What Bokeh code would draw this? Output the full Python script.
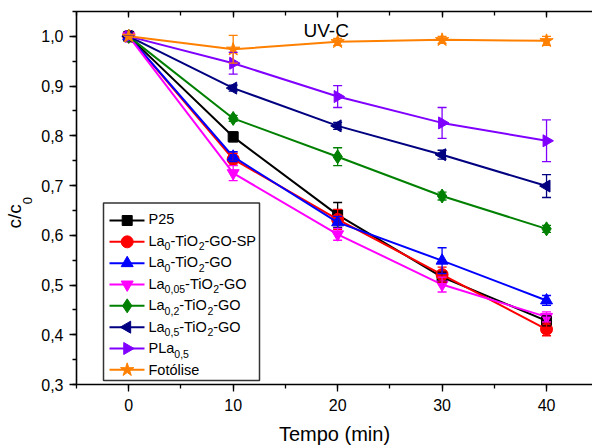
import math
import re
from bokeh.plotting import figure
from bokeh.models import (Range1d, LinearAxis, SingleIntervalTicker, FixedTicker,
                          CustomJSTickFormatter, Whisker, TeeHead, ColumnDataSource, Label)
from bokeh.embed import file_html
from bokeh.resources import INLINE

time = [0, 10, 20, 30, 40]

p25 = [1.0, 0.798, 0.641, 0.516, 0.428]
p25_err = [0.0, 0.010, 0.025, 0.010, 0.010]
la0_sp = [1.0, 0.753, 0.632, 0.521, 0.411]
la0_sp_err = [0.0, 0.012, 0.020, 0.015, 0.013]
la0 = [1.0, 0.758, 0.626, 0.549, 0.469]
la0_err = [0.0, 0.010, 0.012, 0.026, 0.010]
la005 = [1.0, 0.725, 0.602, 0.501, 0.436]
la005_err = [0.0, 0.015, 0.012, 0.015, 0.010]
la02 = [1.0, 0.835, 0.758, 0.679, 0.613]
la02_err = [0.0, 0.006, 0.018, 0.008, 0.007]
la05 = [1.0, 0.896, 0.820, 0.762, 0.699]
la05_err = [0.0, 0.006, 0.007, 0.009, 0.023]
pla05 = [1.0, 0.946, 0.879, 0.826, 0.790]
pla05_err = [0.0, 0.022, 0.022, 0.031, 0.042]
fotolise = [1.0, 0.974, 0.989, 0.993, 0.991]
fotolise_err = [0.0, 0.028, 0.007, 0.007, 0.009]

# legend labels; _{..} marks a subscript
labels = ["P25", "La_{0}-TiO_{2}-GO-SP", "La_{0}-TiO_{2}-GO", "La_{0,05}-TiO_{2}-GO",
          "La_{0,2}-TiO_{2}-GO", "La_{0,5}-TiO_{2}-GO", "PLa_{0,5}", "Fotólise"]
colors = ["#000000", "#FF0000", "#0000FF", "#FF00FF", "#008000", "#000080", "#8000FF", "#FF8000"]
markers = ["square", "circle", "triangle", "inverted_triangle", "diamond", "triangle", "triangle", "star"]
angles = [0, 0, 0, 0, 0, math.pi / 2, -math.pi / 2, 0]
msizes = [10, 12, 12, 12, 14, 12, 12, 14]
series = [p25, la0_sp, la0, la005, la02, la05, pla05, fotolise]
errors = [p25_err, la0_sp_err, la0_err, la005_err, la02_err, la05_err, pla05_err, fotolise_err]

FONT = "Liberation Sans"
W, H = 592, 447
XMIN, XMAX, YMIN, YMAX = -5, 44.4, 0.3, 1.05
FL, FR, FT, FB = 76, 592, 11, 387


def dx(sx):
    return XMIN + (sx - FL) / (FR - FL) * (XMAX - XMIN)


def dy(sy):
    return YMIN + (FB - sy) / (FB - FT) * (YMAX - YMIN)


def lx(sx):  # page x -> label x (frame relative)
    return sx - FL


def ly(sy):  # page y -> label y (frame relative, upward)
    return FB - sy


# Arial / Liberation Sans advance widths (per 1000 em)
AW = {'P': 667, 'L': 556, 'a': 556, '-': 333, 'T': 611, 'i': 222, 'O': 778, 'G': 778,
      'S': 667, ',': 278, 'F': 611, 'o': 556, 't': 278, 'ó': 556, 'l': 222, 's': 500,
      'e': 556, ' ': 278, 'c': 500, '/': 278}


def tw(s, size):
    return sum(AW.get(c, 556) for c in s) * size / 1000.0


p = figure(width=W, height=H, output_backend="svg", toolbar_location=None,
           x_range=Range1d(XMIN, XMAX), y_range=Range1d(YMIN, YMAX),
           x_axis_location=None, y_axis_location=None,
           min_border_left=FL, min_border_right=0, min_border_top=FT, min_border_bottom=H - FB)
p.outline_line_color = None
p.xgrid.visible = False
p.ygrid.visible = False
p.background_fill_color = "white"
p.border_fill_color = "white"

fmt = CustomJSTickFormatter(code="return tick.toFixed(1).replace('.', ',');")

# y axis title: "c/c" (padded with no-break spaces so it sits a little below centre)
yaxis = LinearAxis(ticker=SingleIntervalTicker(interval=0.1, num_minor_ticks=2), formatter=fmt,
                   axis_label="c/c" + "\u00a0" * 7)
xaxis = LinearAxis(ticker=SingleIntervalTicker(interval=10, num_minor_ticks=2),
                   axis_label="Tempo (min)")
for ax in (xaxis, yaxis):
    ax.axis_line_width = 1.6
    ax.axis_line_color = "black"
    ax.major_tick_line_color = "black"
    ax.minor_tick_line_color = "black"
    ax.major_tick_line_width = 1.3
    ax.minor_tick_line_width = 1.3
    ax.major_tick_out = 7
    ax.major_tick_in = 0
    ax.minor_tick_out = 4
    ax.minor_tick_in = 0
    ax.major_label_text_font = FONT
    ax.major_label_text_font_size = "16px"
    ax.major_label_text_color = "black"
    ax.axis_label_text_font = FONT
    ax.axis_label_text_font_size = "20px"
    ax.axis_label_text_font_style = "normal"
    ax.axis_label_text_color = "black"
yaxis.axis_label_text_font_size = "19px"
xaxis.major_label_standoff = 7
yaxis.major_label_standoff = 6
xaxis.axis_label_standoff = 9
yaxis.axis_label_standoff = 13
p.add_layout(yaxis, "left")
p.add_layout(xaxis, "below")

# subscript "0" of the y title: a label-only axis pulled inward by a negative standoff
sub_axis = LinearAxis(ticker=FixedTicker(ticks=[dy(198)]),
                      formatter=CustomJSTickFormatter(code="return '0';"))
sub_axis.axis_line_color = None
sub_axis.major_tick_line_color = None
sub_axis.minor_tick_line_color = None
sub_axis.major_tick_out = 0
sub_axis.major_tick_in = 0
sub_axis.minor_tick_out = 0
sub_axis.minor_tick_in = 0
sub_axis.major_label_orientation = math.pi / 2
sub_axis.major_label_standoff = -26
sub_axis.major_label_text_font = FONT
sub_axis.major_label_text_font_size = "13px"
sub_axis.major_label_text_color = "black"
p.add_layout(sub_axis, "left")

top = LinearAxis(ticker=SingleIntervalTicker(interval=10, num_minor_ticks=2),
                 formatter=CustomJSTickFormatter(code="return '';"),
                 major_label_standoff=0)
top.axis_line_width = 1.6
top.major_tick_in = 6
top.major_tick_out = 0
top.minor_tick_in = 4
top.minor_tick_out = 0
top.major_tick_line_width = 1.3
top.minor_tick_line_width = 1.3
p.add_layout(top, "above")

# data
for col, mk, ang, ms, ys, es in zip(colors, markers, angles, msizes, series, errors):
    lower = [y - e for y, e in zip(ys, es)]
    upper = [y + e for y, e in zip(ys, es)]
    src = ColumnDataSource(dict(x=time, y=ys, lower=lower, upper=upper))
    w = Whisker(source=src, base="x", lower="lower", upper="upper", line_color=col, line_width=1.3,
                upper_head=TeeHead(size=9, line_color=col, line_width=1.3),
                lower_head=TeeHead(size=9, line_color=col, line_width=1.3))
    w.level = "glyph"
    p.add_layout(w)
    p.line("x", "y", source=src, line_color=col, line_width=2)
    p.scatter("x", "y", source=src, marker=mk, angle=ang, size=ms,
              fill_color=col, line_color=col)

# legend (drawn by hand to allow subscripts and rotated markers)
BOX_L, BOX_R, BOX_T, BOX_B = 103, 259, 204, 383
p.quad(left=[dx(BOX_L)], right=[dx(BOX_R)], top=[dy(BOX_T)], bottom=[dy(BOX_B)],
       fill_color="white", line_color="#333333", line_width=1.5)
ROW0, PITCH = 221.7, 21.5
MAIN, SUB = 14.5, 10.5
for i, (lab, col, mk, ang, ms) in enumerate(zip(labels, colors, markers, angles, msizes)):
    sy = ROW0 + i * PITCH
    p.line([dx(109), dx(144)], [dy(sy), dy(sy)], line_color=col, line_width=2)
    p.scatter([dx(126.7)], [dy(sy)], marker=mk, angle=ang, size=ms,
              fill_color=col, line_color=col)
    sx = 148.0
    for part in re.split(r"(_\{[^}]*\})", lab):
        if not part:
            continue
        if part.startswith("_{"):
            t = part[2:-1]
            p.add_layout(Label(x=lx(sx), y=ly(sy) - 5.5, x_units="screen", y_units="screen", text=t,
                               text_font=FONT, text_font_size=f"{SUB}px", text_color="black",
                               text_align="left", text_baseline="middle"))
            sx += tw(t, SUB)
        else:
            p.add_layout(Label(x=lx(sx), y=ly(sy), x_units="screen", y_units="screen", text=part,
                               text_font=FONT, text_font_size=f"{MAIN}px", text_color="black",
                               text_align="left", text_baseline="middle"))
            sx += tw(part, MAIN)

p.add_layout(Label(x=lx(303), y=ly(33), x_units="screen", y_units="screen", text="UV-C",
                   text_font=FONT, text_font_size="19px", text_color="black",
                   text_align="left", text_baseline="alphabetic"))

open("out.html", "w").write(file_html(p, INLINE))
